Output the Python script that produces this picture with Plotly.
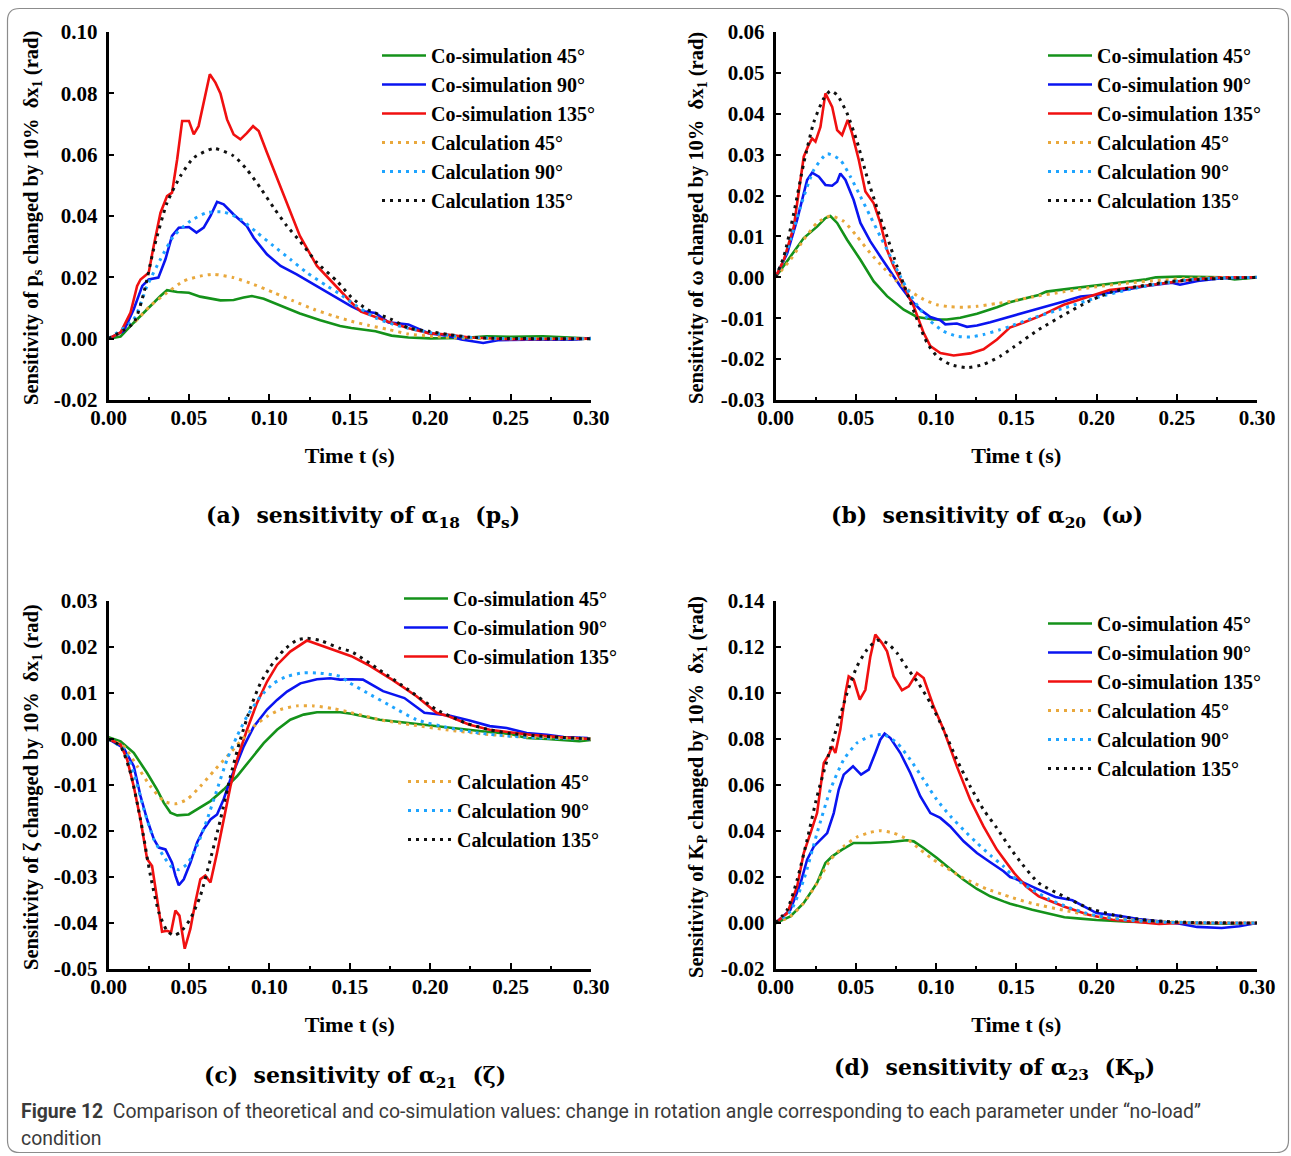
import plotly.graph_objects as go

W, H = 1291, 1156

# ---------------- data: panel (a) sensitivity of alpha18 (p_s) ----------------
A_CO45_T = [0, 0.0075, 0.0157, 0.026, 0.0323, 0.0364, 0.0427, 0.050, 0.057, 0.0696, 0.0778, 0.084, 0.0892,
            0.0965, 0.107, 0.119, 0.1317, 0.144, 0.151, 0.166, 0.176, 0.1865, 0.20, 0.22, 0.235, 0.25, 0.27,
            0.29, 0.30]
A_CO45_Y = [0, 0.0007, 0.0052, 0.0107, 0.0139, 0.0158, 0.0152, 0.015, 0.0137, 0.0125, 0.0126, 0.0134, 0.0139,
            0.013, 0.0107, 0.0082, 0.006, 0.0041, 0.0035, 0.0024, 0.001, 0.0004, 0.0001, 0.0002, 0.0008, 0.0006,
            0.0008, 0.0004, 0.0]
A_CO90_T = [0, 0.0095, 0.0157, 0.021, 0.025, 0.031, 0.0354, 0.0395, 0.0437, 0.050, 0.0547, 0.0592, 0.0634,
            0.0675, 0.0716, 0.0778, 0.086, 0.0903, 0.0985, 0.107, 0.117, 0.1296, 0.144, 0.151, 0.157, 0.166,
            0.174, 0.1865, 0.199, 0.212, 0.2194, 0.233, 0.2422, 0.26, 0.29, 0.30]
A_CO90_Y = [0, 0.0025, 0.0096, 0.0172, 0.0193, 0.0199, 0.0259, 0.0335, 0.0362, 0.0364, 0.0346, 0.0362, 0.040,
            0.0446, 0.0438, 0.0405, 0.0367, 0.0329, 0.0275, 0.0237, 0.021, 0.0172, 0.0128, 0.0105, 0.009,
            0.0084, 0.0053, 0.0046, 0.0018, 0.0008, -0.0003, -0.0014, -0.0005, -0.0003, -0.0003, 0.0002]
A_CO135_T = [0, 0.0075, 0.0137, 0.0178, 0.0199, 0.025, 0.028, 0.0323, 0.0364, 0.0395, 0.0427, 0.0458, 0.050,
             0.053, 0.056, 0.059, 0.063, 0.0665, 0.0696, 0.0737, 0.0778, 0.082, 0.086, 0.0899, 0.0934, 0.0985,
             0.109, 0.119, 0.1296, 0.144, 0.151, 0.157, 0.165, 0.174, 0.186, 0.199, 0.212, 0.2245, 0.25, 0.30]
A_CO135_Y = [0, 0.002, 0.0085, 0.0172, 0.0193, 0.0215, 0.030, 0.041, 0.0465, 0.0476, 0.0585, 0.071, 0.071,
             0.0666, 0.0693, 0.077, 0.0862, 0.0835, 0.080, 0.0715, 0.0666, 0.065, 0.067, 0.0693, 0.0677, 0.0607,
             0.0465, 0.0335, 0.0237, 0.0155, 0.0118, 0.0088, 0.0072, 0.0055, 0.0035, 0.0018, 0.0013, 0.0004,
             -0.0002, 0]
A_CALC45_T = [0, 0.0157, 0.026, 0.0364, 0.0468, 0.057, 0.0654, 0.0778, 0.0903, 0.1027, 0.115, 0.1275, 0.14,
              0.151, 0.162, 0.174, 0.1865, 0.20, 0.22, 0.24, 0.30]
A_CALC45_Y = [0, 0.0052, 0.0107, 0.015, 0.0188, 0.0204, 0.021, 0.0199, 0.0177, 0.015, 0.0123, 0.0096, 0.0074,
              0.0057, 0.0043, 0.003, 0.0015, 0.0008, 0.0002, 0, 0]
A_CALC90_T = [0, 0.0157, 0.024, 0.0323, 0.0406, 0.051, 0.0613, 0.0716, 0.082, 0.0923, 0.1027, 0.113, 0.1234,
              0.1358, 0.144, 0.151, 0.166, 0.18, 0.20, 0.22, 0.25, 0.30]
A_CALC90_Y = [0, 0.0063, 0.0172, 0.0259, 0.0335, 0.0384, 0.0411, 0.0413, 0.039, 0.0346, 0.0302, 0.0259, 0.0215,
              0.0172, 0.0145, 0.0118, 0.0068, 0.0042, 0.002, 0.0006, 0, 0]
A_CALC135_T = [0, 0.0157, 0.022, 0.028, 0.0364, 0.0447, 0.053, 0.0654, 0.0778, 0.086, 0.0944, 0.1027, 0.111,
               0.119, 0.1296, 0.142, 0.151, 0.161, 0.1763, 0.1865, 0.199, 0.212, 0.2245, 0.24, 0.30]
A_CALC135_Y = [0, 0.0052, 0.015, 0.029, 0.0443, 0.053, 0.059, 0.062, 0.0596, 0.0552, 0.0492, 0.0427, 0.0367,
               0.0318, 0.0248, 0.0188, 0.0135, 0.0095, 0.0062, 0.0035, 0.0024, 0.0013, 0.0005, 0.0001, 0]

# ---------------- data: panel (b) sensitivity of alpha20 (omega) ----------------
B_CO45_T = [0, 0.0093, 0.0176, 0.0259, 0.0311, 0.0342, 0.0384, 0.0446, 0.0529, 0.0612, 0.0695, 0.0799, 0.0882,
            0.0985, 0.1068, 0.1151, 0.1255, 0.138, 0.146, 0.164, 0.1688, 0.1848, 0.20, 0.216, 0.231, 0.237,
            0.252, 0.278, 0.286, 0.30]
B_CO45_Y = [0, 0.0051, 0.0096, 0.0124, 0.0145, 0.015, 0.0133, 0.0092, 0.0043, -0.001, -0.0046, -0.0079,
            -0.0097, -0.0103, -0.0103, -0.0099, -0.0089, -0.0073, -0.0061, -0.0043, -0.0035, -0.0027, -0.0019,
            -0.0012, -0.0005, 0.0, 0.0002, 0.0, -0.0005, 0.0]
B_CO90_T = [0, 0.0073, 0.0135, 0.0197, 0.0228, 0.027, 0.0311, 0.0353, 0.0384, 0.0404, 0.0436, 0.0487, 0.0529,
            0.0591, 0.0653, 0.0716, 0.0778, 0.084, 0.0902, 0.0965, 0.1027, 0.1058, 0.113, 0.1193, 0.1255,
            0.1338, 0.146, 0.164, 0.1796, 0.19, 0.20, 0.216, 0.231, 0.247, 0.252, 0.263, 0.278, 0.30]
B_CO90_Y = [0, 0.0059, 0.0141, 0.0238, 0.0256, 0.0246, 0.0226, 0.0224, 0.0234, 0.0254, 0.0238, 0.0189, 0.0133,
            0.0088, 0.0051, 0.0015, -0.0022, -0.0054, -0.0079, -0.0097, -0.0105, -0.0115, -0.0113, -0.0121,
            -0.0118, -0.011, -0.0097, -0.0076, -0.0059, -0.0047, -0.0043, -0.0031, -0.0021, -0.0013, -0.0018,
            -0.0009, -0.0002, 0]
B_CO135_T = [0, 0.0052, 0.0114, 0.0176, 0.0207, 0.0228, 0.0249, 0.028, 0.0311, 0.0353, 0.0384, 0.0415, 0.045,
             0.0477, 0.0519, 0.056, 0.0612, 0.0653, 0.0695, 0.0736, 0.0799, 0.0861, 0.0923, 0.0965, 0.1027,
             0.111, 0.1213, 0.1296, 0.138, 0.146, 0.155, 0.164, 0.1796, 0.195, 0.208, 0.226, 0.2468, 0.26,
             0.278, 0.30]
B_CO135_Y = [0, 0.0043, 0.0124, 0.0295, 0.0324, 0.034, 0.0332, 0.0368, 0.045, 0.0417, 0.036, 0.0348, 0.0385,
             0.0352, 0.0287, 0.021, 0.0181, 0.0133, 0.0067, 0.0027, -0.0022, -0.0071, -0.0136, -0.0168, -0.0185,
             -0.0191, -0.0186, -0.0176, -0.0152, -0.0123, -0.011, -0.0096, -0.0067, -0.0047, -0.0031, -0.0023,
             -0.0011, -0.0005, 0, 0]
B_CALC45_T = [0, 0.0093, 0.0176, 0.0259, 0.0342, 0.0425, 0.0508, 0.0591, 0.0674, 0.0757, 0.084, 0.0923, 0.1006,
              0.1089, 0.1172, 0.1255, 0.138, 0.146, 0.16, 0.18, 0.20, 0.22, 0.24, 0.26, 0.30]
B_CALC45_Y = [0, 0.0043, 0.0092, 0.0133, 0.015, 0.0137, 0.010, 0.0059, 0.0023, -0.001, -0.0034, -0.0054,
              -0.0067, -0.0072, -0.0073, -0.0071, -0.0064, -0.0059, -0.0048, -0.0035, -0.0023, -0.0014, -0.0007,
              -0.0002, 0]
B_CALC90_T = [0, 0.0073, 0.0156, 0.0239, 0.0322, 0.0404, 0.0467, 0.0529, 0.0591, 0.0653, 0.0716, 0.0778, 0.084,
              0.0902, 0.0965, 0.1047, 0.113, 0.1213, 0.1296, 0.14, 0.146, 0.16, 0.18, 0.20, 0.22, 0.24, 0.26,
              0.28, 0.30]
B_CALC90_Y = [0, 0.0067, 0.0173, 0.0263, 0.0302, 0.0287, 0.0246, 0.0198, 0.0149, 0.010, 0.0051, 0.0002, -0.0042,
              -0.0079, -0.0107, -0.0132, -0.0144, -0.0146, -0.014, -0.0128, -0.012, -0.010, -0.0075, -0.005,
              -0.003, -0.0015, -0.0005, -0.0001, 0]
B_CALC135_T = [0, 0.0052, 0.0114, 0.0176, 0.0239, 0.030, 0.0342, 0.0384, 0.0446, 0.0508, 0.057, 0.0633, 0.0695,
               0.0757, 0.0819, 0.0882, 0.0944, 0.1006, 0.1089, 0.1193, 0.1296, 0.14, 0.1486, 0.164, 0.1796,
               0.195, 0.21, 0.226, 0.247, 0.27, 0.30]
B_CALC135_Y = [0, 0.0051, 0.0157, 0.0279, 0.038, 0.0437, 0.0456, 0.0446, 0.0401, 0.0332, 0.0246, 0.0169, 0.010,
               0.0027, -0.0038, -0.0103, -0.016, -0.0193, -0.0213, -0.0221, -0.0213, -0.0193, -0.017, -0.0128,
               -0.0092, -0.0059, -0.0035, -0.0022, -0.001, -0.0004, 0]

# ---------------- data: panel (c) sensitivity of alpha21 (zeta) ----------------
C_CO45_T = [0, 0.0075, 0.0157, 0.024, 0.0302, 0.0344, 0.0385, 0.0427, 0.0499, 0.0551, 0.0634, 0.0716, 0.0799,
            0.0882, 0.0965, 0.1048, 0.113, 0.1213, 0.1296, 0.144, 0.151, 0.1686, 0.1865, 0.2016, 0.2194, 0.232,
            0.25, 0.26, 0.2726, 0.2927, 0.30]
C_CO45_Y = [0.0004, -0.0005, -0.003, -0.0074, -0.011, -0.0139, -0.016, -0.0166, -0.0164, -0.0153, -0.0135,
            -0.011, -0.0081, -0.0045, -0.0009, 0.002, 0.0042, 0.0053, 0.0058, 0.0058, 0.0055, 0.0042, 0.0035,
            0.0028, 0.0022, 0.0017, 0.0011, 0.0002, 0, -0.0005, -0.0002]
C_CO90_T = [0, 0.0095, 0.0157, 0.0199, 0.024, 0.0282, 0.0313, 0.0354, 0.0395, 0.0416, 0.0437, 0.0468, 0.0509,
            0.0551, 0.0592, 0.0634, 0.0675, 0.0716, 0.0758, 0.0799, 0.0841, 0.0903, 0.0986, 0.1048, 0.111,
            0.1193, 0.1296, 0.1379, 0.144, 0.151, 0.1582, 0.1707, 0.184, 0.1964, 0.2118, 0.2245, 0.237, 0.2476,
            0.26, 0.2726, 0.283, 0.298]
C_CO90_Y = [0, -0.002, -0.0059, -0.0124, -0.0175, -0.0218, -0.0236, -0.024, -0.0269, -0.0297, -0.0318, -0.0305,
            -0.0269, -0.0225, -0.0196, -0.0175, -0.0164, -0.0131, -0.0088, -0.0052, -0.0016, 0.0027, 0.0064,
            0.0085, 0.0103, 0.0121, 0.013, 0.0132, 0.0129, 0.013, 0.0129, 0.0104, 0.0089, 0.0057, 0.0051, 0.004,
            0.0028, 0.0024, 0.0013, 0.0009, 0.0004, 0.0002]
C_CO135_T = [0, 0.0075, 0.0116, 0.0157, 0.0199, 0.024, 0.0271, 0.0302, 0.0333, 0.0364, 0.0389, 0.0416, 0.0441,
             0.0474, 0.0509, 0.054, 0.0571, 0.0602, 0.0634, 0.0675, 0.0716, 0.0758, 0.0799, 0.0861, 0.0923,
             0.0986, 0.1048, 0.113, 0.1234, 0.1317, 0.144, 0.151, 0.161, 0.1763, 0.1915, 0.204, 0.2118, 0.2245,
             0.237, 0.25, 0.2625, 0.28, 0.30]
C_CO135_Y = [0, -0.0012, -0.0045, -0.0103, -0.0175, -0.0261, -0.0276, -0.0348, -0.0419, -0.0417, -0.042,
             -0.0373, -0.0384, -0.0456, -0.0413, -0.0355, -0.0305, -0.0297, -0.0312, -0.0247, -0.0175, -0.0103,
             -0.0045, 0.002, 0.0078, 0.0125, 0.0161, 0.019, 0.0214, 0.0204, 0.019, 0.018, 0.0162, 0.0129, 0.0093,
             0.0057, 0.0049, 0.0031, 0.002, 0.0014, 0.0009, 0.0004, 0]
C_CALC45_T = [0, 0.0095, 0.0178, 0.0261, 0.0344, 0.0416, 0.0489, 0.0571, 0.0654, 0.0737, 0.082, 0.0903, 0.0986,
              0.1068, 0.1172, 0.1275, 0.14, 0.15, 0.17, 0.19, 0.21, 0.23, 0.25, 0.27, 0.30]
C_CALC45_Y = [0, -0.0016, -0.0059, -0.0103, -0.0135, -0.0141, -0.0131, -0.0103, -0.007, -0.0038, -0.0005,
              0.0027, 0.0049, 0.0064, 0.0072, 0.0072, 0.0066, 0.0058, 0.0041, 0.003, 0.002, 0.0012, 0.0006,
              0.0003, 0]
C_CALC90_T = [0, 0.0095, 0.0157, 0.022, 0.0282, 0.0344, 0.0395, 0.0437, 0.0489, 0.0551, 0.0613, 0.0675, 0.0737,
              0.0799, 0.0861, 0.0944, 0.1027, 0.111, 0.1213, 0.1317, 0.144, 0.15, 0.161, 0.176, 0.1915, 0.212,
              0.23, 0.25, 0.27, 0.30]
C_CALC90_Y = [0, -0.0023, -0.0074, -0.0153, -0.0218, -0.0256, -0.0279, -0.0284, -0.0272, -0.0232, -0.0175,
              -0.011, -0.0045, 0.0006, 0.0049, 0.0092, 0.0121, 0.0136, 0.0144, 0.0143, 0.0136, 0.0122, 0.010,
              0.0071, 0.0042, 0.0024, 0.0013, 0.0006, 0.0002, 0]
C_CALC135_T = [0, 0.0075, 0.0137, 0.0199, 0.0261, 0.0313, 0.0364, 0.0406, 0.0447, 0.0509, 0.0571, 0.0634,
               0.0696, 0.0758, 0.082, 0.0882, 0.0944, 0.1006, 0.1089, 0.1172, 0.1234, 0.1317, 0.144, 0.151,
               0.1686, 0.1865, 0.204, 0.222, 0.237, 0.25, 0.27, 0.30]
C_CALC135_Y = [0, -0.0016, -0.0074, -0.0175, -0.0297, -0.0377, -0.0417, -0.0427, -0.042, -0.0391, -0.0341,
               -0.0261, -0.0175, -0.0081, -0.0001, 0.0067, 0.0121, 0.0157, 0.0193, 0.0215, 0.0219, 0.0214,
               0.0197, 0.019, 0.015, 0.0107, 0.0064, 0.0035, 0.002, 0.0012, 0.0006, 0]

# ---------------- data: panel (d) sensitivity of alpha23 (K_p) ----------------
D_CO45_T = [0, 0.0093, 0.0176, 0.0259, 0.0311, 0.0353, 0.0415, 0.0487, 0.0591, 0.0716, 0.0819, 0.0861, 0.0923,
            0.1006, 0.1089, 0.1172, 0.1255, 0.1338, 0.1421, 0.1462, 0.16, 0.17, 0.18, 0.19, 0.20, 0.22, 0.24,
            0.26, 0.28, 0.30]
D_CO45_Y = [0, 0.0029, 0.0087, 0.0174, 0.0261, 0.029, 0.0319, 0.0348, 0.0348, 0.0352, 0.036, 0.0355, 0.0326,
            0.0283, 0.0235, 0.0188, 0.0148, 0.0116, 0.0094, 0.0084, 0.0058, 0.0042, 0.0025, 0.0019, 0.0013,
            0.0006, 0.0004, 0.0002, -0.0003, 0]
D_CO90_T = [0, 0.0093, 0.0156, 0.0197, 0.0239, 0.029, 0.0322, 0.0363, 0.0394, 0.0425, 0.0483, 0.0533, 0.0581,
            0.0622, 0.0653, 0.068, 0.0716, 0.0778, 0.084, 0.0902, 0.0965, 0.1027, 0.1089, 0.1172, 0.1255,
            0.1338, 0.1421, 0.1462, 0.1486, 0.164, 0.1744, 0.185, 0.19, 0.20, 0.213, 0.226, 0.239, 0.252,
            0.2626, 0.278, 0.289, 0.297, 0.30]
D_CO90_Y = [0, 0.0058, 0.0174, 0.0275, 0.0333, 0.037, 0.0391, 0.0478, 0.058, 0.0645, 0.0681, 0.0645, 0.0667,
            0.0739, 0.0797, 0.0823, 0.0804, 0.0739, 0.0652, 0.0551, 0.0478, 0.0457, 0.042, 0.0355, 0.0304,
            0.0264, 0.0225, 0.02, 0.0195, 0.0145, 0.0113, 0.0099, 0.008, 0.0043, 0.0032, 0.0017, 0.0007, -0.0003,
            -0.0017, -0.0022, -0.0014, -0.0004, 0]
D_CO135_T = [0, 0.0073, 0.0135, 0.0176, 0.0218, 0.0259, 0.0301, 0.0332, 0.0353, 0.0373, 0.0404, 0.0436, 0.0456,
             0.0487, 0.0525, 0.056, 0.0591, 0.0622, 0.0664, 0.0695, 0.0736, 0.0788, 0.083, 0.0882, 0.0923,
             0.0985, 0.1047, 0.113, 0.1213, 0.1296, 0.1379, 0.1462, 0.1486, 0.156, 0.164, 0.1796, 0.195, 0.21,
             0.226, 0.239, 0.252, 0.30]
D_CO135_Y = [0, 0.0043, 0.0159, 0.0304, 0.0391, 0.0478, 0.0696, 0.0732, 0.0768, 0.0739, 0.0841, 0.100, 0.1072,
             0.1058, 0.0971, 0.1014, 0.1159, 0.1254, 0.1217, 0.1181, 0.1072, 0.1012, 0.1029, 0.1087, 0.1065,
             0.0942, 0.0841, 0.0681, 0.0536, 0.042, 0.0319, 0.0239, 0.0218, 0.016, 0.0116, 0.0072, 0.0036,
             0.0014, 0.0003, -0.0004, 0, 0]
D_CALC45_T = [0, 0.0093, 0.0176, 0.0259, 0.0342, 0.0425, 0.0508, 0.0591, 0.0653, 0.0736, 0.0819, 0.0902, 0.0985,
              0.1068, 0.1151, 0.1234, 0.1317, 0.1421, 0.1462, 0.16, 0.18, 0.20, 0.22, 0.24, 0.26, 0.30]
D_CALC45_Y = [0, 0.0029, 0.0087, 0.0174, 0.0275, 0.0333, 0.0374, 0.0394, 0.0401, 0.0391, 0.0365, 0.0319, 0.0275,
              0.0239, 0.0203, 0.0174, 0.0148, 0.0123, 0.0113, 0.0085, 0.0055, 0.003, 0.0015, 0.0006, 0.0002, 0]
D_CALC90_T = [0, 0.0093, 0.0176, 0.0259, 0.0342, 0.0425, 0.0508, 0.0591, 0.0674, 0.0757, 0.084, 0.0923, 0.1006,
              0.1089, 0.1172, 0.1255, 0.1338, 0.1421, 0.15, 0.16, 0.17, 0.18, 0.19, 0.20, 0.22, 0.24, 0.26, 0.30]
D_CALC90_Y = [0, 0.0051, 0.0188, 0.0391, 0.058, 0.071, 0.0783, 0.0812, 0.0819, 0.0783, 0.071, 0.0623, 0.0535,
              0.0465, 0.0405, 0.0348, 0.0295, 0.0246, 0.019, 0.0145, 0.0105, 0.0075, 0.005, 0.0032, 0.0012,
              0.0004, 0.0001, 0]
D_CALC135_T = [0, 0.0073, 0.0135, 0.0197, 0.0259, 0.0322, 0.0384, 0.0446, 0.0508, 0.057, 0.0633, 0.0695,
               0.0757, 0.0819, 0.0882, 0.0965, 0.1047, 0.113, 0.1213, 0.1296, 0.1379, 0.1462, 0.1537, 0.164,
               0.1796, 0.195, 0.21, 0.226, 0.2416, 0.26, 0.30]
D_CALC135_Y = [0, 0.0058, 0.0188, 0.0362, 0.0551, 0.071, 0.0855, 0.100, 0.1116, 0.1188, 0.1229, 0.1217, 0.1174,
               0.1109, 0.1051, 0.0957, 0.0841, 0.071, 0.0594, 0.0493, 0.0413, 0.0326, 0.0256, 0.0174, 0.0116,
               0.0065, 0.0036, 0.0017, 0.0007, 0.0002, 0]

# ---------------- labels and ticks ----------------
SERIES_NAMES = ["Co-simulation 45°", "Co-simulation 90°", "Co-simulation 135°",
                "Calculation 45°", "Calculation 90°", "Calculation 135°"]
X_TICKS = [0.0, 0.05, 0.10, 0.15, 0.20, 0.25, 0.30]
X_TICK_TEXT = ["0.00", "0.05", "0.10", "0.15", "0.20", "0.25", "0.30"]
A_Y_TICKS = [-0.02, 0.0, 0.02, 0.04, 0.06, 0.08, 0.10]
A_Y_TEXT = ["-0.02", "0.00", "0.02", "0.04", "0.06", "0.08", "0.10"]
B_Y_TICKS = [-0.03, -0.02, -0.01, 0.0, 0.01, 0.02, 0.03, 0.04, 0.05, 0.06]
B_Y_TEXT = ["-0.03", "-0.02", "-0.01", "0.00", "0.01", "0.02", "0.03", "0.04", "0.05", "0.06"]
C_Y_TICKS = [-0.05, -0.04, -0.03, -0.02, -0.01, 0.0, 0.01, 0.02, 0.03]
C_Y_TEXT = ["-0.05", "-0.04", "-0.03", "-0.02", "-0.01", "0.00", "0.01", "0.02", "0.03"]
D_Y_TICKS = [-0.02, 0.0, 0.02, 0.04, 0.06, 0.08, 0.10, 0.12, 0.14]
D_Y_TEXT = ["-0.02", "0.00", "0.02", "0.04", "0.06", "0.08", "0.10", "0.12", "0.14"]

Y_TITLES = [
    "Sensitivity of p<sub>s</sub> changed by 10%  δx<sub>1</sub> (rad)",
    "Sensitivity of ω changed by 10%  δx<sub>1</sub> (rad)",
    "Sensitivity of ζ changed by 10%  δx<sub>1</sub> (rad)",
    "Sensitivity of K<sub>P</sub> changed by 10%  δx<sub>1</sub> (rad)",
]
SUBCAPTIONS = [
    "(a)  sensitivity of α<sub>18</sub>  (p<sub>s</sub>)",
    "(b)  sensitivity of α<sub>20</sub>  (ω)",
    "(c)  sensitivity of α<sub>21</sub>  (ζ)",
    "(d)  sensitivity of α<sub>23</sub>  (K<sub>p</sub>)",
]
CAPTION_1 = ("<b>Figure 12</b>  Comparison of theoretical and co-simulation values: change in rotation angle "
             "corresponding to each parameter under “no-load”")
CAPTION_2 = "condition"

COLORS = ["#14921a", "#0a14f0", "#f01010", "#e9a83c", "#1ea4ff", "#111111"]

SERIF = "Liberation Serif"


def px_x(px):
    return px / W


def px_y(py):
    return 1 - py / H


fig = go.Figure()

panels = [
    dict(ax="", data=[(A_CO45_T, A_CO45_Y), (A_CO90_T, A_CO90_Y), (A_CO135_T, A_CO135_Y),
                      (A_CALC45_T, A_CALC45_Y), (A_CALC90_T, A_CALC90_Y), (A_CALC135_T, A_CALC135_Y)],
         legends=["legend", "legend"], yr=[-0.02, 0.10], yt=(A_Y_TICKS, A_Y_TEXT),
         xdom=(108.5, 591), ydom=(32, 400)),
    dict(ax="2", data=[(B_CO45_T, B_CO45_Y), (B_CO90_T, B_CO90_Y), (B_CO135_T, B_CO135_Y),
                       (B_CALC45_T, B_CALC45_Y), (B_CALC90_T, B_CALC90_Y), (B_CALC135_T, B_CALC135_Y)],
         legends=["legend2", "legend2"], yr=[-0.03, 0.06], yt=(B_Y_TICKS, B_Y_TEXT),
         xdom=(775.5, 1257), ydom=(32, 400)),
    dict(ax="3", data=[(C_CO45_T, C_CO45_Y), (C_CO90_T, C_CO90_Y), (C_CO135_T, C_CO135_Y),
                       (C_CALC45_T, C_CALC45_Y), (C_CALC90_T, C_CALC90_Y), (C_CALC135_T, C_CALC135_Y)],
         legends=["legend3", "legend5"], yr=[-0.05, 0.03], yt=(C_Y_TICKS, C_Y_TEXT),
         xdom=(108.5, 591), ydom=(601, 969)),
    dict(ax="4", data=[(D_CO45_T, D_CO45_Y), (D_CO90_T, D_CO90_Y), (D_CO135_T, D_CO135_Y),
                       (D_CALC45_T, D_CALC45_Y), (D_CALC90_T, D_CALC90_Y), (D_CALC135_T, D_CALC135_Y)],
         legends=["legend4", "legend4"], yr=[-0.02, 0.14], yt=(D_Y_TICKS, D_Y_TEXT),
         xdom=(775.5, 1257), ydom=(601, 969)),
]

tick_font = dict(family=SERIF, size=21, color="black", weight="bold")
layout_axes = {}
for p in panels:
    suffix = p["ax"]
    for i, (t, y) in enumerate(p["data"]):
        calc = i >= 3
        fig.add_trace(go.Scatter(
            x=t, y=y, mode="lines", name=SERIES_NAMES[i],
            xaxis="x" + suffix, yaxis="y" + suffix,
            legend=p["legends"][1] if calc else p["legends"][0],
            line=dict(color=COLORS[i], width=3 if calc else 2.6,
                      dash="3px,5px" if calc else "solid",
                      shape="spline" if calc else "linear", smoothing=0.6),
        ))
    xd = [px_x(p["xdom"][0]), px_x(p["xdom"][1])]
    yd = [px_y(p["ydom"][1]), px_y(p["ydom"][0])]
    layout_axes["xaxis" + suffix] = dict(
        domain=xd, anchor="y" + suffix, range=[0, 0.30], automargin=False,
        tickmode="array", tickvals=X_TICKS, ticktext=X_TICK_TEXT,
        ticks="inside", ticklen=6, tickwidth=2, tickcolor="black",
        minor=dict(tickmode="linear", tick0=0.025, dtick=0.05, ticks="inside", ticklen=3,
                   tickwidth=2, tickcolor="black"),
        showline=True, linewidth=2.6, linecolor="black", mirror=False,
        showgrid=False, zeroline=False, tickfont=tick_font, ticklabelstandoff=-3,
        title=dict(text="Time t (s)", font=dict(family=SERIF, size=22, color="black", weight="bold"),
                   standoff=19),
    )
    layout_axes["yaxis" + suffix] = dict(
        domain=yd, anchor="x" + suffix, range=p["yr"], automargin=False,
        tickmode="array", tickvals=p["yt"][0], ticktext=p["yt"][1],
        ticks="inside", ticklen=6, tickwidth=2, tickcolor="black",
        showline=True, linewidth=2.6, linecolor="black", mirror=False,
        showgrid=False, zeroline=False, tickfont=tick_font, ticklabelstandoff=4,
    )

legend_font = dict(family=SERIF, size=20, color="black", weight="bold")


def legend_at(x_px, y_px):
    return dict(x=px_x(x_px), y=px_y(y_px), xanchor="left", yanchor="top", font=legend_font,
                bgcolor="rgba(0,0,0,0)", borderwidth=0, itemwidth=44, traceorder="normal",
                tracegroupgap=0)


annotations = []
# rotated y-axis titles
for title, (xc, (y0, y1)) in zip(Y_TITLES, [(32, (32, 400)), (697, (32, 400)),
                                             (32, (601, 969)), (697, (601, 969))]):
    annotations.append(dict(text=title, x=px_x(xc), y=px_y((y0 + y1) / 2 + 2), xref="paper", yref="paper",
                            textangle=-90, xanchor="center", yanchor="middle", showarrow=False,
                            font=dict(family=SERIF, size=20.5, color="black", weight="bold")))
# sub-figure captions
for text, (xc, yc) in zip(SUBCAPTIONS, [(363, 517), (987, 517), (355, 1077), (994, 1069)]):
    annotations.append(dict(text=text, x=px_x(xc), y=px_y(yc), xref="paper", yref="paper",
                            xanchor="center", yanchor="middle", showarrow=False,
                            font=dict(family="DejaVu Serif", size=22, color="black", weight="bold")))
# figure caption
annotations.append(dict(text=CAPTION_1, x=px_x(19), y=px_y(1111), xref="paper", yref="paper",
                        xanchor="left", yanchor="middle", showarrow=False,
                        font=dict(family="Roboto", size=19.4, color="#3a3a3a")))
annotations.append(dict(text=CAPTION_2, x=px_x(19), y=px_y(1138), xref="paper", yref="paper",
                        xanchor="left", yanchor="middle", showarrow=False,
                        font=dict(family="Roboto", size=19.4, color="#3a3a3a")))

# rounded page frame
L, R, T, B, r = 7.5, 1288.5, 8.5, 1152.5, 12


def pt(x, y):
    return f"{px_x(x):.5f},{px_y(y):.5f}"


frame = (f"M {pt(L + r, T)} L {pt(R - r, T)} Q {pt(R, T)} {pt(R, T + r)} "
         f"L {pt(R, B - r)} Q {pt(R, B)} {pt(R - r, B)} L {pt(L + r, B)} Q {pt(L, B)} {pt(L, B - r)} "
         f"L {pt(L, T + r)} Q {pt(L, T)} {pt(L + r, T)} Z")

fig.update_layout(
    width=W, height=H, margin=dict(l=0, r=0, t=0, b=0, autoexpand=False),
    paper_bgcolor="white", plot_bgcolor="white",
    showlegend=True,
    legend=legend_at(377, 36),
    legend2=legend_at(1043, 36),
    legend3=legend_at(399, 579),
    legend4=legend_at(1043, 604),
    legend5=legend_at(403, 762),
    annotations=annotations,
    shapes=[dict(type="path", path=frame, xref="paper", yref="paper",
                 line=dict(color="#8c8c8c", width=1.2), layer="below")],
    **layout_axes,
)

fig.write_html("out.html")
